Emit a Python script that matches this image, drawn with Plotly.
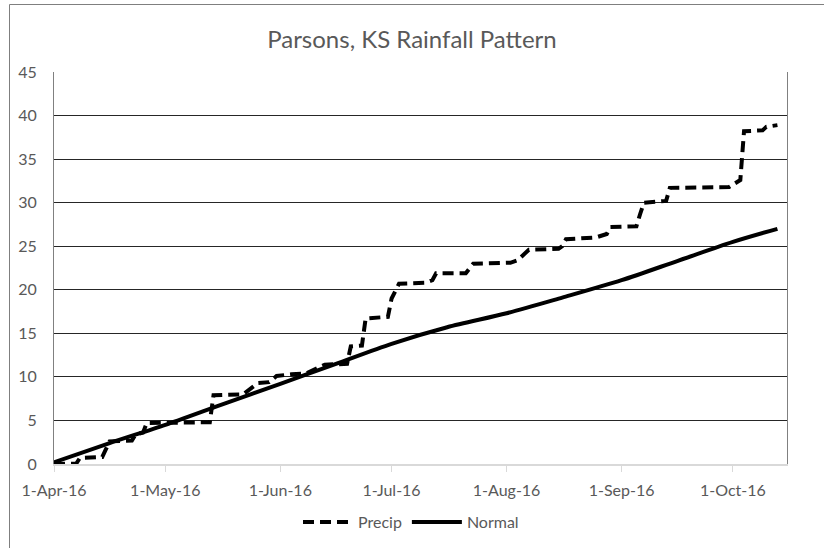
import plotly.graph_objects as go

# ---- data ----
precip_dates = [
    "2016-04-01", "2016-04-07", "2016-04-08", "2016-04-14", "2016-04-15", "2016-04-16",
    "2016-04-22", "2016-04-23", "2016-04-25", "2016-04-26", "2016-05-13", "2016-05-14",
    "2016-05-22", "2016-05-24", "2016-05-26", "2016-05-29", "2016-05-31", "2016-06-04",
    "2016-06-08", "2016-06-11", "2016-06-13", "2016-06-19", "2016-06-20", "2016-06-23",
    "2016-06-24", "2016-06-30", "2016-07-01", "2016-07-03", "2016-07-10", "2016-07-12",
    "2016-07-13", "2016-07-21", "2016-07-23", "2016-08-02", "2016-08-04", "2016-08-07",
    "2016-08-15", "2016-08-16", "2016-08-17", "2016-08-25", "2016-08-28", "2016-08-29",
    "2016-09-05", "2016-09-06", "2016-09-07", "2016-09-13", "2016-09-14", "2016-09-30",
    "2016-10-02", "2016-10-03", "2016-10-04", "2016-10-09", "2016-10-10", "2016-10-13",
]
precip_values = [
    0.0, 0.05, 0.7, 0.8, 1.7, 2.6,
    2.7, 3.4, 3.6, 4.7, 4.8, 7.9,
    8.0, 8.7, 9.3, 9.4, 10.1, 10.3,
    10.4, 11.0, 11.4, 11.5, 13.5, 13.6,
    16.7, 16.9, 19.0, 20.7, 20.8, 21.1,
    21.9, 21.9, 23.0, 23.1, 23.4, 24.6,
    24.7, 25.0, 25.8, 26.0, 26.4, 27.2,
    27.3, 28.7, 30.0, 30.2, 31.7, 31.8,
    32.3, 32.6, 38.2, 38.3, 38.7, 38.9,
]

normal_dates = [
    "2016-04-01", "2016-04-16", "2016-05-01", "2016-05-16", "2016-06-01", "2016-06-16",
    "2016-07-01", "2016-07-16", "2016-08-01", "2016-08-16", "2016-09-01", "2016-09-16",
    "2016-10-01", "2016-10-13",
]
normal_values = [0.2, 2.4, 4.5, 6.8, 9.2, 11.5, 13.8, 15.7, 17.3, 19.1, 21.1, 23.3, 25.5, 27.0]

tick_dates = ["2016-04-01", "2016-05-01", "2016-06-01", "2016-07-01",
              "2016-08-01", "2016-09-01", "2016-10-01"]
tick_labels = ["1-Apr-16", "1-May-16", "1-Jun-16", "1-Jul-16",
               "1-Aug-16", "1-Sep-16", "1-Oct-16"]

title_text = "Parsons, KS Rainfall Pattern"

# ---- figure ----
FONT = "Lato, 'Noto Sans', sans-serif"
GRAY = "#595959"

fig = go.Figure()
fig.add_trace(go.Scatter(
    x=precip_dates, y=precip_values, name="Precip", mode="lines",
    line=dict(color="black", width=4, dash="11px,6px"),
))
fig.add_trace(go.Scatter(
    x=normal_dates, y=normal_values, name="Normal", mode="lines",
    line=dict(color="black", width=4, shape="spline", smoothing=0.8),
))

W, H = 824, 548
L, R, T, B = 54, 37, 72, 84
pw, ph = W - L - R, H - T - B


def px_x(px):
    return (px - L) / pw


def px_y(py):
    return (H - B - py) / ph


fig.update_layout(
    width=W, height=H,
    margin=dict(l=L, r=R, t=T, b=B, pad=0, autoexpand=False),
    paper_bgcolor="white", plot_bgcolor="white",
    font=dict(family=FONT, size=16, color=GRAY),
    title=dict(text=title_text, x=0.5, xref="container", xanchor="center",
               y=1 - 40 / H, yref="container", yanchor="middle",
               font=dict(family=FONT, size=24, color=GRAY)),
    showlegend=True,
    legend=dict(orientation="h", x=px_x(411), xref="paper", xanchor="center",
                y=px_y(522), yref="paper", yanchor="middle",
                font=dict(size=16, color=GRAY), itemwidth=50,
                bgcolor="rgba(0,0,0,0)"),
    xaxis=dict(
        type="date",
        range=["2016-04-01", "2016-10-15 14:00"],
        tickvals=tick_dates, ticktext=tick_labels, tickangle=0,
        ticks="outside", ticklen=6, tickcolor="#d9d9d9", tickwidth=1,
        showgrid=False, showline=True, linecolor="#d9d9d9", linewidth=2,
        ticklabelstandoff=5, automargin=False,
        tickfont=dict(size=16, color=GRAY),
        zeroline=False,
    ),
    yaxis=dict(
        range=[0, 45], dtick=5, tick0=0,
        showgrid=True, gridcolor="#262626", gridwidth=1,
        showline=True, mirror=True, linecolor="#808080", linewidth=1,
        ticks="", zeroline=False, automargin=False,
        ticklabelstandoff=13,
        tickfont=dict(size=16, color=GRAY),
    ),
    shapes=[
        dict(type="rect", xref="paper", yref="paper",
             x0=px_x(9.5), x1=px_x(860), y0=px_y(600), y1=px_y(4.5),
             line=dict(color="#7f7f7f", width=1), fillcolor="rgba(0,0,0,0)",
             layer="above"),
    ],
)

fig.write_html("out.html", config={"displayModeBar": False},
               post_script="document.body.style.margin='0';document.body.style.overflow='hidden';")
